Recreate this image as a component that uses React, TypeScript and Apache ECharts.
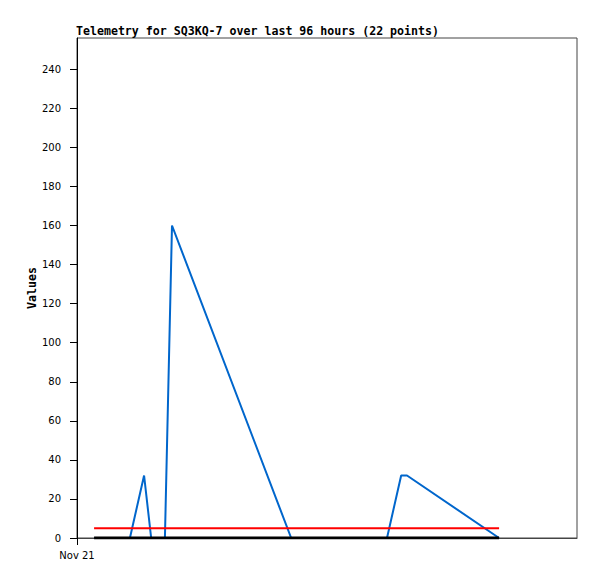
import React, { useEffect, useRef } from "react";
import * as echarts from "echarts";

// hours since Nov 21 00:00
const hours = [4.1, 6.2, 8.4, 10.6, 12.7, 16.1, 17.8, 19.4, 21.1, 22.8, 51.4, 54.2, 57.1, 60.0, 62.9, 65.8, 68.6, 71.5, 74.4, 77.8, 79.2, 101.3];
const values = [0, 0, 0, 0, 0, 32, 0, 0, 0, 160, 0, 0, 0, 0, 0, 0, 0, 0, 0, 32, 32, 0];
const thresholdValue = 5;
const baselineValue = 0;
const yTicks = [0, 20, 40, 60, 80, 100, 120, 140, 160, 180, 200, 220, 240];
const xTickLabel = "Nov 21";
const titleText = "Telemetry for SQ3KQ-7 over last 96 hours (22 points)";

export default function App() {
  const ref = useRef<HTMLDivElement>(null);
  useEffect(() => {
    if (!ref.current) return;
    const chart = echarts.init(ref.current, null, { renderer: "svg" });
    const first = hours[0];
    const last = hours[hours.length - 1];
    chart.setOption({
      animation: false,
      backgroundColor: "#ffffff",
      title: {
        text: titleText,
        left: 76,
        top: 25,
        padding: 0,
        textStyle: {
          fontFamily: "DejaVu Sans Mono",
          fontWeight: "bold",
          fontSize: 11.6,
          color: "#000",
        },
      },
      grid: {
        left: 77,
        right: 20,
        top: 38,
        bottom: 41,
        show: true,
        borderColor: "#444",
        borderWidth: 1,
        backgroundColor: "transparent",
      },
      xAxis: {
        type: "value",
        min: 0,
        max: 120,
        axisLine: { show: true, lineStyle: { color: "#444", width: 1 } },
        axisTick: { show: true, length: 7, customValues: [0], lineStyle: { color: "#000", width: 1 } },
        axisLabel: {
          customValues: [0],
          formatter: (v: number) => (v === 0 ? xTickLabel : ""),
          fontFamily: "DejaVu Sans",
          fontSize: 10,
          color: "#000",
          margin: 12,
        },
        splitLine: { show: false },
      },
      yAxis: {
        type: "value",
        min: 0,
        max: 256,
        name: "Values",
        nameLocation: "middle",
        nameGap: 39,
        nameMoveOverlap: false,
        nameTextStyle: {
          fontFamily: "DejaVu Sans Mono",
          fontWeight: "bold",
          fontSize: 11.6,
          color: "#000",
        },
        axisLine: { show: true, lineStyle: { color: "#000", width: 1 } },
        axisTick: { show: true, length: 7, customValues: yTicks, lineStyle: { color: "#000", width: 1 } },
        axisLabel: {
          customValues: yTicks,
          fontFamily: "DejaVu Sans",
          fontSize: 10,
          color: "#000",
          margin: 16,
        },
        splitLine: { show: false },
      },
      series: [
        {
          name: "Values",
          type: "line",
          data: hours.map((h, i) => [h, values[i]]),
          showSymbol: false,
          lineStyle: { color: "#0066cc", width: 2 },
          z: 2,
        },
        {
          name: "Threshold",
          type: "line",
          data: [[first, thresholdValue], [last, thresholdValue]],
          showSymbol: false,
          lineStyle: { color: "#ff0000", width: 2 },
          z: 3,
        },
        {
          name: "Baseline",
          type: "line",
          data: [[first, baselineValue], [last, baselineValue]],
          showSymbol: false,
          lineStyle: { color: "#000000", width: 3 },
          z: 4,
        },
      ],
    });
    return () => chart.dispose();
  }, []);
  return (
    <div
      ref={ref}
      style={{ position: "absolute", left: 0, top: 0, width: 597, height: 579 }}
    />
  );
}
